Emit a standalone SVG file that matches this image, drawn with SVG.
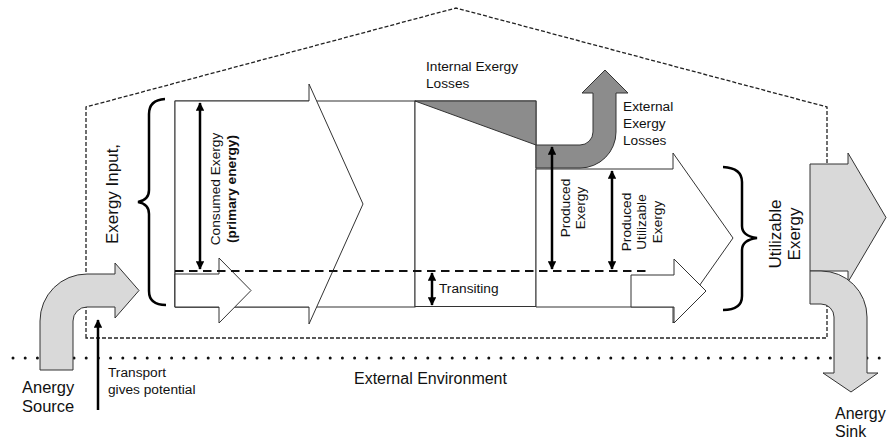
<svg xmlns="http://www.w3.org/2000/svg" width="888" height="441" viewBox="0 0 888 441">
<defs>
<marker id="ah" viewBox="0 0 10 10" refX="9" refY="5" markerWidth="3.4" markerHeight="3.4" orient="auto-start-reverse" markerUnits="strokeWidth">
<path d="M0,0 L10,5 L0,10 Z" fill="#000"/>
</marker>
<style>
.t{font-family:"Liberation Sans",Arial,sans-serif;fill:#111;}
.s{font-size:13.7px;}
.b{font-size:17px;}
.ln{fill:#fff;stroke:#333;stroke-width:1;}
.lg{fill:#d9d9d9;stroke:#333;stroke-width:1;}
.dg{fill:#8c8c8c;stroke:#333;stroke-width:1;}
.dim{stroke:#000;stroke-width:2.5;fill:none;marker-start:url(#ah);marker-end:url(#ah);}
.br{stroke:#000;stroke-width:2.5;fill:none;}
</style>
</defs>
<rect width="888" height="441" fill="#fff"/>

<g id="system-boundary">
<path d="M86,338 L86,107 L456,8 L827,107 L827,338 Z" fill="none" stroke="#222" stroke-width="1.3" stroke-dasharray="4 2"/>
</g>
<g id="external-environment">
<line x1="13" y1="358" x2="888" y2="358" stroke="#111" stroke-width="3" stroke-linecap="round" stroke-dasharray="0 12.2"/>
<text class="t" x="354" y="384" font-size="16px">External Environment</text>
</g>

<g id="conversion">
<rect class="ln" x="175" y="101" width="240" height="206"/>
</g>
<g id="exergy-input">
<polygon class="ln" points="175,101 309,101 309,84 363,204 309,324 309,307 175,307"/>
</g>
<g id="process-box">
<rect class="ln" x="415" y="101" width="121" height="205.5"/>
<polygon class="dg" points="415,101 536,101 536,145"/>
</g>
<g id="produced-exergy">
<polygon class="ln" points="536,169 673,169 673,153 733,238 673,323 673,307 536,307"/>
</g>
<g id="external-losses">
<path class="dg" d="M536,145 L580,145 A13,13 0 0 0 593,132 L593,93 L582,93 L605,70 L628,93 L616,93 L616,132 A36,36 0 0 1 580,168 L536,168 Z"/>
</g>
<g id="transit-in">
<polygon class="ln" points="175,274 219,274 219,258 251,290.5 219,323 219,307 175,307"/>
</g>
<g id="transit-out">
<polygon class="ln" points="631,275 674,275 674,259 706,291 674,323 674,307 631,307"/>
</g>

<g id="connectors">
<line x1="175" y1="271" x2="650" y2="271" stroke="#111" stroke-width="2" stroke-dasharray="8.5 5.5"/>
<line class="dim" x1="200" y1="103" x2="200" y2="269"/>
<line class="dim" x1="432" y1="273" x2="432" y2="305"/>
<line class="dim" x1="552" y1="147" x2="552" y2="269"/>
<line class="dim" x1="612" y1="171" x2="612" y2="269"/>
<line x1="98" y1="410" x2="98" y2="320" stroke="#000" stroke-width="2.5" marker-end="url(#ah)"/>
</g>

<g id="input-brace">
<path class="br" d="M165,99 Q149,100 149,114 L149,190 Q149,200 138,202 Q149,204 149,214 L149,291 Q149,305 166,305"/>
<text class="t b" transform="translate(118,194) rotate(-90)" text-anchor="middle">Exergy Input,</text>
</g>
<g id="utilizable-brace">
<path class="br" d="M723,167 Q742,168 742,182 L742,226 Q742,236 757,238 Q742,240 742,250 L742,296 Q742,310 723,310"/>
<text class="t b" transform="translate(781,234) rotate(-90)" text-anchor="middle">Utilizable</text>
<text class="t b" transform="translate(800,234) rotate(-90)" text-anchor="middle">Exergy</text>
</g>

<g id="anergy-source">
<path class="lg" d="M40,370 L40,321 A47,47 0 0 1 87,274 L115,274 L115,263 L139,290.5 L115,318 L115,307 L87,307 A14,14 0 0 0 73,321 L73,370 Z"/>
<text class="t" font-size="16.5px" x="22" y="393">Anergy</text>
<text class="t" font-size="16.5px" x="22" y="412">Source</text>
</g>
<g id="utilizable-output">
<polygon class="lg" points="810,164 848,164 848,153 886,217.5 848,282 848,271 810,271"/>
</g>
<g id="anergy-sink">
<path class="lg" d="M810,271 L821,271 A46,46 0 0 1 867,317 L867,373 L878,373 L851,392 L823,373 L834,373 L834,317 A13,13 0 0 0 821,304 L810,304 Z"/>
<text class="t" font-size="16px" x="835" y="419">Anergy</text>
<text class="t" font-size="16px" x="835" y="437">Sink</text>
</g>

<g id="labels">
<text class="t s" transform="translate(220,189) rotate(-90)" text-anchor="middle">Consumed Exergy</text>
<text class="t s" font-weight="bold" transform="translate(236,189) rotate(-90)" text-anchor="middle">(primary energy)</text>
<text class="t s" x="426" y="71">Internal Exergy</text>
<text class="t s" x="426" y="88">Losses</text>
<text class="t s" x="623" y="111">External</text>
<text class="t s" x="623" y="128">Exergy</text>
<text class="t s" x="623" y="145">Losses</text>
<text class="t s" transform="translate(570,208) rotate(-90)" text-anchor="middle">Produced</text>
<text class="t s" transform="translate(585,208) rotate(-90)" text-anchor="middle">Exergy</text>
<text class="t s" transform="translate(631,222) rotate(-90)" text-anchor="middle">Produced</text>
<text class="t s" transform="translate(646,222) rotate(-90)" text-anchor="middle">Utilizable</text>
<text class="t s" transform="translate(662,222) rotate(-90)" text-anchor="middle">Exergy</text>
<text class="t s" x="439" y="293">Transiting</text>
<text class="t s" x="108" y="377">Transport</text>
<text class="t s" x="108" y="394">gives potential</text>
</g>
</svg>
